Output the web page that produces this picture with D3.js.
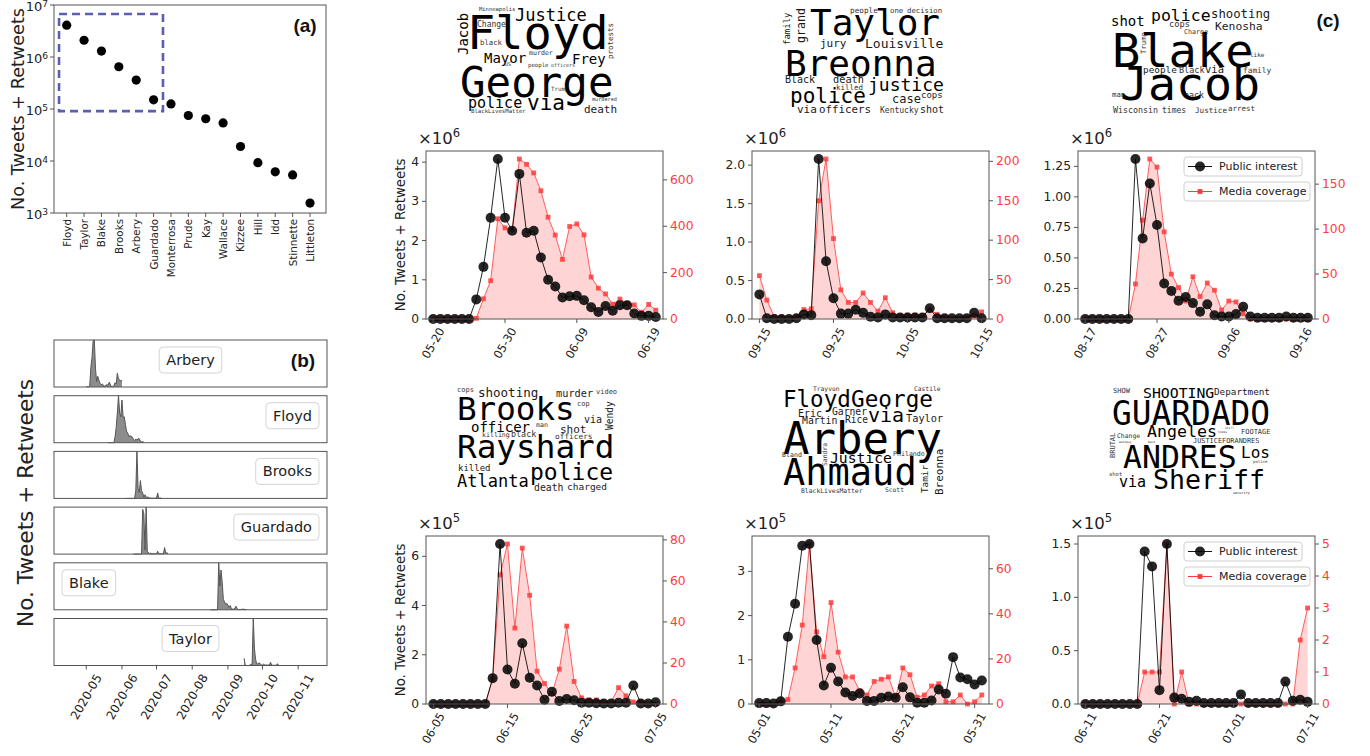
<!DOCTYPE html>
<html>
<head>
<meta charset="utf-8">
<script src="https://cdnjs.cloudflare.com/ajax/libs/d3/7.8.5/d3.min.js"></script>
<style>
  body { margin: 0; background: #fff; }
  svg { display: block; font-family: "DejaVu Sans", sans-serif; }
</style>
</head>
<body>
<svg width="1370" height="756"></svg>
<script>
// ---------- data ----------

const victims = ['Floyd', 'Taylor', 'Blake', 'Brooks', 'Arbery', 'Guardado', 'Monterrosa',
  'Prude', 'Kay', 'Wallace', 'Kizzee', 'Hill', 'Idd', 'Stinnette', 'Littleton'];
const totalEngagement = [4.1e6, 2.1e6, 1.3e6, 6.5e5, 3.6e5, 1.5e5, 1.25e5,
  7.5e4, 6.5e4, 5.4e4, 1.9e4, 9.3e3, 6.2e3, 5.4e3, 1.55e3];
const logExponents = [3, 4, 5, 6, 7];

// public interest in units of 10^exp, media coverage as article counts (one value per day)
const floydStart = '2020-05-20';
const floydPublic = [0, 0, 0, 0, 0, 0, 0.5, 1.33, 2.58, 4.08, 2.58, 2.25, 3.7, 2.2, 2.25, 1.57,
  1.0, 0.83, 0.55, 0.58, 0.59, 0.48, 0.3, 0.18, 0.33, 0.21, 0.35, 0.35, 0.14, 0.08, 0.08, 0.05];
const floydMedia = [0, 0, 0, 0, 0, 0, 3, 87, 165, 432, 393, 385, 690, 667, 630, 553,
  439, 362, 257, 399, 410, 363, 181, 133, 108, 64, 86, 68, 61, 29, 63, 38];

const taylorStart = '2020-09-15';
const taylorPublic = [0.32, 0.01, 0, 0, 0, 0.01, 0.06, 0.05, 2.08, 0.75, 0.27, 0.07, 0.07, 0.12, 0.08, 0.03,
  0.02, 0.06, 0.02, 0.02, 0.02, 0.02, 0.02, 0.14, 0.01, 0.01, 0.01, 0.01, 0.01, 0.08, 0.01];
const taylorMedia = [55, 24, 3, 2, 1, 3, 12, 13, 150, 203, 102, 37, 21, 21, 33, 21,
  10, 27, 8, 4, 5, 5, 4, 12, 6, 2, 1, 1, 2, 4, 9];

const blakeStart = '2020-08-17';
const blakePublic = [0, 0, 0, 0, 0, 0, 0, 1.31, 0.66, 1.11, 0.77, 0.29, 0.23, 0.15, 0.18, 0.13,
  0.06, 0.12, 0.03, 0.02, 0.02, 0.04, 0.1, 0.02, 0.01, 0.01, 0.01, 0.01, 0.02, 0.01, 0.01, 0.01];
const blakeMedia = [0, 0, 0, 0, 0, 0, 0, 39, 110, 178, 169, 97, 50, 35, 20, 47,
  25, 40, 32, 10, 20, 19, 6, 0, 0, 0, 0, 0, 0, 0, 0, 0];

const brooksStart = '2020-06-05';
const brooksPublic = [0, 0, 0, 0, 0, 0, 0, 0, 1.05, 6.5, 1.4, 0.82, 2.47, 1.07, 0.75, 0.17,
  0.5, 0.12, 0.2, 0.15, 0.05, 0.05, 0.03, 0.02, 0.02, 0.05, 0.05, 0.75, 0.02, 0.02, 0.07];
const brooksMedia = [0, 0, 0, 0, 0, 0, 0, 0, 12, 63, 78, 37, 76, 53, 16, 10,
  5, 17, 38, 11, 3, 2, 2, 1, 1, 8, 4, 1, 1, 0, 0];

const arberyStart = '2020-05-01';
const arberyPublic = [0.02, 0.02, 0.01, 0.06, 1.52, 2.27, 3.58, 3.62, 1.45, 0.42, 0.82, 0.51, 0.26, 0.18, 0.24, 0.07,
  0.07, 0.14, 0.17, 0.14, 0.38, 0.15, 0.03, 0.03, 0.08, 0.33, 0.23, 1.06, 0.6, 0.56, 0.44, 0.53];
const arberyMedia = [0, 0, 0, 1, 2, 16, 35, 71, 32, 21, 45, 23, 12, 12, 6, 4,
  10, 11, 12, 3, 16, 13, 3, 4, 8, 9, 1, 1, 4, 0, 1, 4];

const guardadoStart = '2020-06-11';
const guardadoPublic = [0, 0, 0, 0, 0, 0, 0, 0, 1.43, 1.29, 0.13, 1.5, 0.06, 0.05, 0.02, 0.03,
  0.01, 0.01, 0.01, 0.01, 0.01, 0.09, 0.01, 0.01, 0.01, 0.01, 0.01, 0.21, 0.03, 0.04, 0.02];
const guardadoMedia = [0, 0, 0, 0, 0, 0, 0, 0, 1, 1, 1, 5, 0, 1, 0, 0,
  0, 0, 0, 0, 0, 0, 0, 0, 0, 0, 0, 0, 0, 2, 3];

const floydTicks = [[0, 1, 2, 3, 4], [0, 200, 400, 600]];
const taylorTicks = [[0, 0.5, 1, 1.5, 2], [0, 50, 100, 150, 200]];
const blakeTicks = [[0, 0.25, 0.5, 0.75, 1, 1.25], [0, 50, 100, 150]];
const brooksTicks = [[0, 2, 4, 6], [0, 20, 40, 60, 80]];
const arberyTicks = [[0, 1, 2, 3], [0, 20, 40, 60]];
const guardadoTicks = [[0, 0.5, 1, 1.5], [0, 1, 2, 3, 4, 5]];

const monthTicks = ['2020-05', '2020-06', '2020-07', '2020-08', '2020-09', '2020-10', '2020-11'];

// ---------- helpers ----------

const svg = d3.select('svg');
const DAY = 864e5;
const parse = d3.utcParse('%Y-%m-%d');
const fmtDay = d3.utcFormat('%m-%d');
const SPINE = '#555';
const INK = '#222';
const RED = '#ff3b3b';

const rotatedLabel = (g, x, yTop, text, size, angle) => {
  const t = g.append('text')
    .attr('font-size', size)
    .attr('text-anchor', 'middle')
    .attr('dominant-baseline', 'central')
    .attr('fill', INK)
    .text(text);
  const L = t.node().getComputedTextLength();
  const rad = (angle * Math.PI) / 180;
  const bh = L * Math.sin(rad) + size * 0.9 * Math.cos(rad);
  t.attr('transform', `translate(${x},${yTop + bh / 2}) rotate(${-angle})`);
};

const powerLabel = (g, x, y, size, exp, anchor, prefix, supShift = 0.42) => {
  const t = g.append('text')
    .attr('x', x).attr('y', y)
    .attr('font-size', size)
    .attr('text-anchor', anchor)
    .attr('fill', INK);
  t.append('tspan').text(prefix + '10');
  t.append('tspan').attr('dy', -size * supShift).attr('font-size', size * 0.7).text(exp);
};

// ---------- panel (a) ----------

const gA = svg.append('g');
const aL = 54, aR = 326, aT = 5, aB = 213;
const xa = d3.scaleLinear().domain([-0.73, 14.92]).range([aL, aR]);
const ya = d3.scaleLog().domain([1e3, 1e7]).range([aB, aT]);

gA.append('rect').attr('x', aL).attr('y', aT).attr('width', aR - aL).attr('height', aB - aT)
  .attr('fill', 'none').attr('stroke', SPINE);

logExponents.forEach((e) => {
  const yy = ya(Math.pow(10, e));
  gA.append('line').attr('x1', aL - 4).attr('x2', aL).attr('y1', yy).attr('y2', yy).attr('stroke', SPINE);
  powerLabel(gA, aL - 6, yy + 6, 13, e, 'end', '', 0.3);
});

victims.forEach((name, i) => {
  gA.append('line').attr('x1', xa(i)).attr('x2', xa(i)).attr('y1', aB).attr('y2', aB + 4).attr('stroke', SPINE);
  rotatedLabel(gA, xa(i), aB + 6, name, 10.3, 90);
});

gA.append('rect')
  .attr('x', xa(-0.44)).attr('y', ya(6.7e6))
  .attr('width', xa(5.54) - xa(-0.44)).attr('height', ya(9.1e4) - ya(6.7e6))
  .attr('fill', 'none').attr('stroke', '#5c5fb0').attr('stroke-width', 2.6)
  .attr('stroke-dasharray', '8,5');

gA.selectAll('circle.tot').data(totalEngagement).join('circle')
  .attr('cx', (d, i) => xa(i)).attr('cy', (d) => ya(d)).attr('r', 4.6).attr('fill', '#000');

gA.append('text').attr('transform', `translate(18,${(aT + aB) / 2}) rotate(-90)`)
  .attr('text-anchor', 'middle').attr('dominant-baseline', 'central')
  .attr('font-size', 17.6).attr('fill', INK).text('No. Tweets + Retweets');

gA.append('text').attr('x', 305).attr('y', 32).attr('text-anchor', 'middle')
  .attr('font-family', '"Liberation Sans", Arial, sans-serif').attr('font-weight', 'bold')
  .attr('font-size', 19).attr('fill', '#111').text('(a)');

// ---------- panel (b) ----------

const gB = svg.append('g');
const bL = 54, bR = 327, bTop = 340, bStep = 55.7, bH = 47;
const xb = d3.scaleUtc().domain([parse('2020-04-03'), parse('2020-11-26')]).range([bL, bR]);

const bRows = [
  { name: 'Arbery', start: arberyStart, values: arberyPublic, loc: 'center' },
  { name: 'Floyd', start: floydStart, values: floydPublic, loc: 'right' },
  { name: 'Brooks', start: brooksStart, values: brooksPublic, loc: 'right' },
  { name: 'Guardado', start: guardadoStart, values: guardadoPublic, loc: 'right' },
  { name: 'Blake', start: blakeStart, values: blakePublic, loc: 'left' },
  { name: 'Taylor', start: taylorStart, values: taylorPublic, loc: 'center' },
];

bRows.forEach((row, r) => {
  const top = bTop + r * bStep, bottom = top + bH;
  const d0 = parse(row.start);
  const yb = d3.scaleLinear().domain([0, d3.max(row.values)]).range([bottom, top]);
  const pts = row.values.map((v, i) => [new Date(+d0 + i * DAY), v]);

  gB.append('path').datum(pts)
    .attr('d', d3.area().x((d) => xb(d[0])).y0(bottom).y1((d) => yb(d[1])))
    .attr('fill', '#666').attr('fill-opacity', 0.75);
  gB.append('path').datum(pts)
    .attr('d', d3.line().x((d) => xb(d[0])).y((d) => yb(d[1])))
    .attr('fill', 'none').attr('stroke', '#555').attr('stroke-width', 1);

  gB.append('rect').attr('x', bL).attr('y', top).attr('width', bR - bL).attr('height', bH)
    .attr('fill', 'none').attr('stroke', SPINE);

  const lbl = gB.append('text').attr('font-size', 14.5).attr('fill', INK)
    .attr('text-anchor', 'middle').attr('dominant-baseline', 'central').text(row.name);
  const w = lbl.node().getComputedTextLength() + 14;
  const cx = row.loc === 'left' ? bL + 8 + w / 2 : row.loc === 'right' ? bR - 8 - w / 2 : (bL + bR) / 2;
  gB.insert('rect', () => lbl.node())
    .attr('x', cx - w / 2).attr('y', top + 7).attr('width', w).attr('height', 26).attr('rx', 4)
    .attr('fill', '#fff').attr('stroke', '#d4d4d4');
  lbl.attr('x', cx).attr('y', top + 20);
});

const bBottom = bTop + 5 * bStep + bH;
monthTicks.forEach((m) => {
  const xx = xb(d3.utcParse('%Y-%m')(m));
  gB.append('line').attr('x1', xx).attr('x2', xx).attr('y1', bBottom).attr('y2', bBottom + 4).attr('stroke', SPINE);
  rotatedLabel(gB, xx, bBottom + 7, m, 12, 60);
});

gB.append('text').attr('transform', `translate(25,503) rotate(-90)`)
  .attr('text-anchor', 'middle').attr('dominant-baseline', 'central')
  .attr('font-size', 21.6).attr('fill', INK).text('No. Tweets + Retweets');

gB.append('text').attr('x', 303).attr('y', 367).attr('text-anchor', 'middle')
  .attr('font-family', '"Liberation Sans", Arial, sans-serif').attr('font-weight', 'bold')
  .attr('font-size', 19).attr('fill', '#111').text('(b)');

// ---------- panel (c): time series ----------

const colLeft = [426, 752, 1078];
const rowTop = [151, 536];
const plotW = 237, plotH = 168;

const events = [
  { start: floydStart, pub: floydPublic, media: floydMedia, exp: 6, ticks: floydTicks, dec: 0, col: 0, row: 0 },
  { start: taylorStart, pub: taylorPublic, media: taylorMedia, exp: 6, ticks: taylorTicks, dec: 1, col: 1, row: 0 },
  { start: blakeStart, pub: blakePublic, media: blakeMedia, exp: 6, ticks: blakeTicks, dec: 2, col: 2, row: 0, legend: true },
  { start: brooksStart, pub: brooksPublic, media: brooksMedia, exp: 5, ticks: brooksTicks, dec: 0, col: 0, row: 1 },
  { start: arberyStart, pub: arberyPublic, media: arberyMedia, exp: 5, ticks: arberyTicks, dec: 0, col: 1, row: 1 },
  { start: guardadoStart, pub: guardadoPublic, media: guardadoMedia, exp: 5, ticks: guardadoTicks, dec: 1, col: 2, row: 1, legend: true },
];

const drawEvent = (ev) => {
  const left = colLeft[ev.col], top = rowTop[ev.row];
  const right = left + plotW, bottom = top + plotH;
  const g = svg.append('g');
  const d0 = parse(ev.start);
  const dates = ev.pub.map((_, i) => new Date(+d0 + i * DAY));
  const x = d3.scaleUtc()
    .domain([new Date(+d0 - DAY), new Date(+dates[dates.length - 1] + DAY)])
    .range([left, right]);
  const y = d3.scaleLinear().domain([0, d3.max(ev.pub) * 1.05]).range([bottom, top]);
  const yr = d3.scaleLinear().domain([0, d3.max(ev.media) * 1.05]).range([bottom, top]);

  // media coverage (right axis)
  g.append('path').datum(ev.media)
    .attr('d', d3.area().x((d, i) => x(dates[i])).y0(bottom).y1((d) => yr(d)))
    .attr('fill', '#ff5a5a').attr('fill-opacity', 0.26);
  g.append('path').datum(ev.media)
    .attr('d', d3.line().x((d, i) => x(dates[i])).y((d) => yr(d)))
    .attr('fill', 'none').attr('stroke', RED).attr('stroke-opacity', 0.8).attr('stroke-width', 1);
  g.selectAll('rect.m').data(ev.media).join('rect')
    .attr('x', (d, i) => x(dates[i]) - 2.4).attr('y', (d) => yr(d) - 2.4)
    .attr('width', 4.8).attr('height', 4.8).attr('fill', RED).attr('fill-opacity', 0.85);

  // public interest (left axis)
  g.append('path').datum(ev.pub)
    .attr('d', d3.line().x((d, i) => x(dates[i])).y((d) => y(d)))
    .attr('fill', 'none').attr('stroke', '#000').attr('stroke-opacity', 0.85).attr('stroke-width', 1);
  g.selectAll('circle.p').data(ev.pub).join('circle')
    .attr('cx', (d, i) => x(dates[i])).attr('cy', (d) => y(d)).attr('r', 5)
    .attr('fill', '#080808').attr('fill-opacity', 0.88);

  g.append('rect').attr('x', left).attr('y', top).attr('width', plotW).attr('height', plotH)
    .attr('fill', 'none').attr('stroke', SPINE);

  const fmtL = d3.format(`.${ev.dec}f`);
  ev.ticks[0].forEach((t) => {
    const yy = y(t);
    g.append('line').attr('x1', left - 4).attr('x2', left).attr('y1', yy).attr('y2', yy).attr('stroke', SPINE);
    g.append('text').attr('x', left - 7).attr('y', yy).attr('text-anchor', 'end')
      .attr('dominant-baseline', 'central').attr('font-size', 12.3).attr('fill', INK).text(fmtL(t));
  });
  ev.ticks[1].forEach((t) => {
    const yy = yr(t);
    g.append('line').attr('x1', right).attr('x2', right + 4).attr('y1', yy).attr('y2', yy).attr('stroke', SPINE);
    g.append('text').attr('x', right + 7).attr('y', yy).attr('text-anchor', 'start')
      .attr('dominant-baseline', 'central').attr('font-size', 12.3).attr('fill', RED).text(t);
  });
  [0, 10, 20, 30].forEach((k) => {
    const dt = new Date(+d0 + k * DAY);
    const xx = x(dt);
    g.append('line').attr('x1', xx).attr('x2', xx).attr('y1', bottom).attr('y2', bottom + 4).attr('stroke', SPINE);
    rotatedLabel(g, xx, bottom + 7, fmtDay(dt), 11.5, 60);
  });

  powerLabel(g, left - 8, top - 7, 16.5, ev.exp, 'start', '×');

  if (ev.col === 0) {
    g.append('text').attr('transform', `translate(400,${(top + bottom) / 2}) rotate(-90)`)
      .attr('text-anchor', 'middle').attr('dominant-baseline', 'central')
      .attr('font-size', 13.3).attr('fill', INK).text('No. Tweets + Retweets');
  }

  if (ev.legend) {
    const items = [
      { label: 'Public interest', color: '#111', marker: 'circle', y: top + 6, w: 118 },
      { label: 'Media coverage', color: RED, marker: 'square', y: top + 31, w: 126 },
    ];
    items.forEach((it) => {
      const bx = left + 106, cy = it.y + 9.5;
      g.append('rect').attr('x', bx).attr('y', it.y).attr('width', it.w).attr('height', 19).attr('rx', 3)
        .attr('fill', '#fff').attr('fill-opacity', 0.85).attr('stroke', '#d0d0d0');
      g.append('line').attr('x1', bx + 4).attr('x2', bx + 28).attr('y1', cy).attr('y2', cy)
        .attr('stroke', it.color).attr('stroke-width', 1);
      if (it.marker === 'circle') {
        g.append('circle').attr('cx', bx + 16).attr('cy', cy).attr('r', 5).attr('fill', '#080808').attr('fill-opacity', 0.88);
      } else {
        g.append('rect').attr('x', bx + 13.6).attr('y', cy - 2.4).attr('width', 4.8).attr('height', 4.8).attr('fill', RED);
      }
      g.append('text').attr('x', bx + 35).attr('y', cy).attr('dominant-baseline', 'central')
        .attr('font-size', 11).attr('fill', INK).text(it.label);
    });
  }
};

events.forEach(drawEvent);

// ---------- panel (c): word clouds ----------
// [word, x, baseline y, font size, vertical]

const clouds = [
  [['Minneapolis', 479, 11, 5.5], ['Justice', 515, 21, 17], ['Change', 477, 27, 8], ['Floyd', 467, 49, 47],
    ['Jacob', 468, 55, 14, true], ['black', 480, 45, 7.3], ['protests', 613, 59, 7.5, true], ['murder', 529, 55, 6.6],
    ['Mayor', 484, 63, 14], ['Frey', 572, 64, 14], ['US', 505, 66, 5], ['people', 528, 67, 5.7],
    ['officers', 551, 67, 5], ['Trump', 551, 91, 5.8], ['George', 460, 97, 42.5], ['murdered', 592, 101, 5.2],
    ['police', 468, 108, 15], ['via', 527, 110, 21], ['death', 584, 113, 11], ['BlackLivesMatter', 471, 113, 5.7]],
  [['people', 850, 13, 7.7], ['one', 890, 13, 7.3], ['decision', 907, 13, 7.3], ['Taylor', 810, 35, 36],
    ['family', 790, 45, 9, true], ['grand', 805, 43, 11.6, true], ['jury', 820, 47, 11], ['Louisville', 865, 48, 13],
    ['Breonna', 785, 76, 36], ['Black', 785, 83, 10], ['death', 833, 83, 10.3], ['killed', 836, 90, 7.5],
    ['justice', 868, 91, 18], ['cops', 921, 98, 9], ['police', 790, 103, 21], ['case', 892, 103, 12],
    ['via', 797, 113, 11], ['officers', 819, 113, 10.8], ['Kentucky', 880, 113, 8], ['shot', 920, 113, 10]],
  [['police', 1151, 21, 16.5], ['shooting', 1211, 18, 12.3], ['shot', 1111, 26, 14], ['cops', 1169, 27, 8.7],
    ['Kenosha', 1215, 30, 11.3], ['Charge', 1184, 34, 6.7], ['Trump', 1146, 54, 7.3, true], ['like', 1250, 57, 6],
    ['Blake', 1112, 67, 47], ['people', 1143, 73, 9.4], ['Black', 1179, 73, 8.5], ['via', 1205, 73, 10.5],
    ['family', 1243, 73, 7.8], ['man', 1112, 97, 7.3], ['back', 1184, 98, 8.3], ['Jacob', 1120, 100, 46.5],
    ['Wisconsin', 1113, 113, 8.3], ['times', 1162, 113, 8], ['Justice', 1195, 113, 7.6], ['arrest', 1228, 111, 7.5]],
  [['cops', 457, 392, 7], ['video', 596, 394, 7], ['shooting', 478, 397, 12.5], ['murder', 556, 397, 10.3],
    ['cop', 577, 406, 7], ['Brooks', 457, 420, 32.6], ['Wendy', 613, 430, 9.6, true], ['via', 584, 423, 10],
    ['man', 536, 427, 6.6], ['officer', 471, 432, 14], ['shot', 560, 433, 11], ['killing', 482, 437, 6.6],
    ['black', 511, 437, 8.4], ['officers', 555, 439, 7.8], ['Rayshard', 457, 458, 32.7], ['killed', 458, 471, 9],
    ['police', 530, 480, 23], ['Atlanta', 457, 487, 17], ['charged', 567, 490, 9.5], ['death', 534, 491, 9.8]],
  [['Trayvon', 813, 391, 6.3], ['Castile', 914, 391, 6.3], ['Floyd', 783, 407, 22.5], ['George', 851, 407, 22.7],
    ['Garner', 832, 415, 9.7], ['Eric', 798, 417, 10], ['via', 868, 422, 20], ['Taylor', 906, 422, 10.3],
    ['Rice', 845, 423, 9.6], ['Martin', 802, 424, 9.8], ['Arbery', 783, 454, 44], ['Philando', 893, 456, 6.6],
    ['Bland', 782, 457, 6.6], ['Sandra', 827, 466, 6.4, true], ['Justice', 830, 463, 14.7], ['Ahmaud', 783, 485, 37],
    ['Tamir', 928, 493, 9.3, true], ['Breonna', 943, 495, 11, true], ['Scott', 885, 492, 6.3], ['BlackLivesMatter', 801, 493, 6.4]],
  [['SHOW', 1113, 393, 7], ['Department', 1214, 395, 9.3], ['SHOOTING', 1143, 398, 14.8], ['GUARDADO', 1112, 425, 32.8],
    ['still', 1225, 429, 3], ['times', 1218, 433, 3], ['FOOTAGE', 1241, 434, 7], ['Angeles', 1147, 437, 16.6],
    ['Change', 1117, 438, 6.4], ['autopsy', 1119, 443, 3], ['back', 1148, 443, 3], ['JUSTICEFORANDRES', 1193, 443, 6.9],
    ['BRUTAL', 1115, 458, 7, true], ['Los', 1241, 458, 16], ['police', 1253, 463, 4], ['ANDRES', 1123, 468, 31.5],
    ['shot', 1109, 476, 5.5], ['via', 1119, 487, 15], ['Sheriff', 1153, 489, 26.6], ['security', 1233, 494, 3.5]],
];

const gW = svg.append('g').attr('font-family', '"DejaVu Sans Mono", monospace');
clouds.forEach((words) => {
  words.forEach(([w, x, y, s, vertical]) => {
    gW.append('text')
      .attr('transform', vertical ? `translate(${x},${y}) rotate(-90)` : `translate(${x},${y})`)
      .attr('font-size', s)
      .attr('fill', s >= 14 ? '#000' : s >= 9 ? '#1a1a1a' : '#333')
      .text(w);
  });
});

svg.append('text').attr('x', 1328).attr('y', 27).attr('text-anchor', 'middle')
  .attr('font-family', '"Liberation Sans", Arial, sans-serif').attr('font-weight', 'bold')
  .attr('font-size', 19).attr('fill', '#111').text('(c)');
</script>
</body>
</html>
